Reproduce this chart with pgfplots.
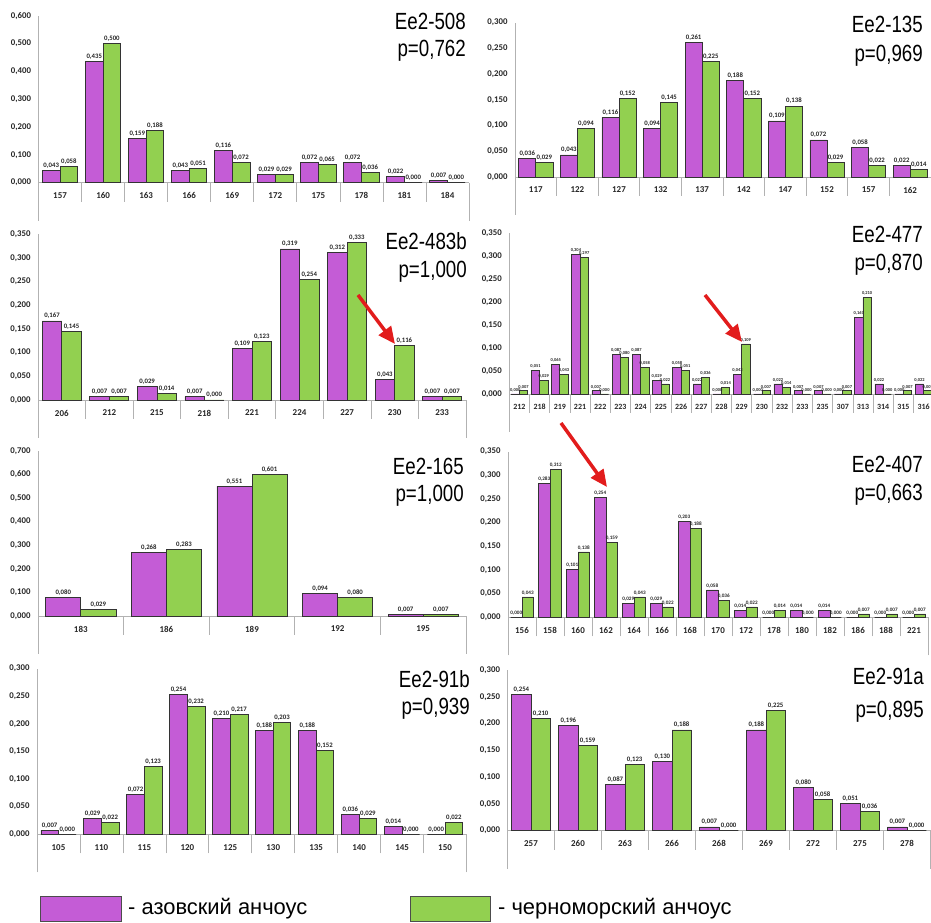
\documentclass[border=0pt]{standalone}
\usepackage{fontspec}
\setmainfont{Liberation Sans}
\newfontfamily\calfont{Carlito}
\usepackage{pgfplots}
\usepackage{pgfplotstable}
\pgfplotsset{compat=1.18}
\usetikzlibrary{arrows.meta}
\definecolor{azov}{RGB}{196,92,214}
\definecolor{bsea}{RGB}{146,208,80}
\definecolor{arrowred}{RGB}{226,28,28}

\pgfplotsset{
  panel/.style={
    scale only axis, anchor=south west, ybar, ymin=0, xmin=-0.5,
    axis x line*=bottom, axis y line*=left,
    axis line style={draw=black!30, line width=0.8pt},
    bar width=0.41,
    major tick length=0pt,
    minor tick length=19bp,
    tick align=outside,
    xtick style={draw=black!30, line width=0.7pt},
    ytick style={draw=none},
    extra x tick style={major tick length=38bp},
    extra x tick labels={{},{}},
    scaled y ticks=false,
    /pgf/number format/assume math mode=true,
    yticklabel style={font=\calfont\bfseries\fontsize{8.8}{9}\selectfont, text=black!85, xshift=-4bp,
      /pgf/number format/.cd, fixed, fixed zerofill, precision=3, use comma},
    xticklabel style={font=\calfont\bfseries\fontsize{9}{9}\selectfont, text=black!85, yshift=-6.5bp},
    nodes near coords={\pgfmathprintnumber[fixed,fixed zerofill,precision=3,use comma,assume math mode=true]{\pgfplotspointmeta}},
    every node near coord/.append style={font=\calfont\bfseries\fontsize{6.8}{7}\selectfont, text=black!85, inner sep=1.8pt},
    clip=false,
  },
  az/.style={fill=azov, draw=black!80, line width=0.7pt, bar shift=-0.205},
  bs/.style={fill=bsea, draw=black!80, line width=0.7pt, bar shift=0.205},
  smalllab/.style={every node near coord/.append style={font=\calfont\bfseries\fontsize{#1}{#1}\selectfont}},
}

% Ee2-508
\pgfplotstableread{
i az bs
0 0.043 0.058
1 0.435 0.500
2 0.159 0.188
3 0.043 0.051
4 0.116 0.072
5 0.029 0.029
6 0.072 0.065
7 0.072 0.036
8 0.022 0.000
9 0.007 0.000
}\tA
% Ee2-135
\pgfplotstableread{
i az bs
0 0.036 0.029
1 0.043 0.094
2 0.116 0.152
3 0.094 0.145
4 0.261 0.225
5 0.188 0.152
6 0.109 0.138
7 0.072 0.029
8 0.058 0.022
9 0.022 0.014
}\tB
% Ee2-483b
\pgfplotstableread{
i az bs
0 0.167 0.145
1 0.007 0.007
2 0.029 0.014
3 0.007 0.000
4 0.109 0.123
5 0.319 0.254
6 0.312 0.333
7 0.043 0.116
8 0.007 0.007
}\tC
% Ee2-477
\pgfplotstableread{
i az bs
0 0.000 0.007
1 0.051 0.029
2 0.065 0.043
3 0.304 0.297
4 0.007 0.000
5 0.087 0.080
6 0.087 0.058
7 0.029 0.022
8 0.058 0.051
9 0.022 0.036
10 0.000 0.014
11 0.043 0.109
12 0.000 0.007
13 0.022 0.014
14 0.007 0.000
15 0.007 0.000
16 0.000 0.007
17 0.167 0.210
18 0.022 0.000
19 0.000 0.007
20 0.022 0.007
}\tD
% Ee2-165
\pgfplotstableread{
i az bs
0 0.080 0.029
1 0.268 0.283
2 0.551 0.601
3 0.094 0.080
4 0.007 0.007
}\tE
% Ee2-407
\pgfplotstableread{
i az bs
0 0.000 0.043
1 0.283 0.312
2 0.101 0.138
3 0.254 0.159
4 0.029 0.043
5 0.029 0.022
6 0.203 0.188
7 0.058 0.036
8 0.014 0.022
9 0.000 0.014
10 0.014 0.000
11 0.014 0.000
12 0.000 0.007
13 0.000 0.007
14 0.000 0.007
}\tF
% Ee2-91b
\pgfplotstableread{
i az bs
0 0.007 0.000
1 0.029 0.022
2 0.072 0.123
3 0.254 0.232
4 0.210 0.217
5 0.188 0.203
6 0.188 0.152
7 0.036 0.029
8 0.014 0.000
9 0.000 0.022
}\tG
% Ee2-91a
\pgfplotstableread{
i az bs
0 0.254 0.210
1 0.196 0.159
2 0.087 0.123
3 0.130 0.188
4 0.007 0.000
5 0.188 0.225
6 0.080 0.058
7 0.051 0.036
8 0.007 0.000
}\tH

\newcommand\ttlb[5]{%
  \node[anchor=base east, inner sep=0, font=\fontsize{23.5}{25}\selectfont] at (#1,{923-(#2+8.4)}) {\scalebox{0.8}[1]{#4}};
  \node[anchor=base east, inner sep=0, font=\fontsize{23.5}{25}\selectfont] at (#1,{923-(#3+8.4)}) {\scalebox{0.8}[1]{#5}};}

\begin{document}
\begin{tikzpicture}[x=1bp,y=1bp]
\useasboundingbox (0,0) rectangle (931,923);

% Ee2-508
\begin{axis}[panel, at={(38.5bp,740.3bp)}, width=430.5bp, height=167bp, ymax=0.6,
  ytick={0,0.1,0.2,0.3,0.4,0.5,0.6},
  xtick={0,...,9}, xticklabels={157,160,163,166,169,172,175,178,181,184},
  xmax=9.5, minor xtick={-0.5,0.5,...,9.5}, extra x ticks={-0.5,9.5}]
\addplot[az] table[x=i,y=az]{\tA};
\addplot[bs] table[x=i,y=bs]{\tA};
\end{axis}

% Ee2-135
\begin{axis}[panel, at={(515bp,746bp)}, width=416bp, height=154.3bp, ymax=0.3,
  ytick={0,0.05,0.1,0.15,0.2,0.25,0.3},
  xtick={0,...,9}, xticklabels={117,122,127,132,137,142,147,152,157,162},
  xmax=9.5, minor xtick={-0.5,0.5,...,9.5}, extra x ticks={-0.5,9.5}]
\addplot[az] table[x=i,y=az]{\tB};
\addplot[bs] table[x=i,y=bs]{\tB};
\end{axis}

% Ee2-483b
\begin{axis}[panel, at={(38bp,523bp)}, width=428bp, height=165.7bp, ymax=0.35,
  ytick={0,0.05,0.1,0.15,0.2,0.25,0.3,0.35},
  xtick={0,...,8}, xticklabels={206,212,215,218,221,224,227,230,233},
  xmax=8.5, minor xtick={-0.5,0.5,...,8.5}, extra x ticks={-0.5,8.5}]
\addplot[az] table[x=i,y=az]{\tC};
\addplot[bs] table[x=i,y=bs]{\tC};
\end{axis}

% Ee2-477
\begin{axis}[panel, smalllab=4.5, at={(509.3bp,529bp)}, width=424.4bp, height=160.7bp, ymax=0.35,
  ytick={0,0.05,0.1,0.15,0.2,0.25,0.3,0.35},
  xtick={0,...,20}, xticklabels={212,218,219,221,222,223,224,225,226,227,228,229,230,232,233,235,307,313,314,315,316},
  xticklabel style={font=\calfont\bfseries\fontsize{8}{8}\selectfont},
  xmax=20.5, minor xtick={-0.5,0.5,...,20.5}, extra x ticks={-0.5,20.5}]
\addplot[az] table[x=i,y=az]{\tD};
\addplot[bs] table[x=i,y=bs]{\tD};
\end{axis}

% Ee2-165
\begin{axis}[panel, at={(38bp,307bp)}, width=428bp, height=165bp, ymax=0.7,
  ytick={0,0.1,0.2,0.3,0.4,0.5,0.6,0.7},
  xtick={0,...,4}, xticklabels={183,186,189,192,195},
  xmax=4.5, minor xtick={-0.5,0.5,...,4.5}, extra x ticks={-0.5,4.5}]
\addplot[az] table[x=i,y=az]{\tE};
\addplot[bs] table[x=i,y=bs]{\tE};
\end{axis}

% Ee2-407
\begin{axis}[panel, smalllab=5.2, at={(508bp,305.7bp)}, width=420bp, height=165.6bp, ymax=0.35,
  ytick={0,0.05,0.1,0.15,0.2,0.25,0.3,0.35},
  xtick={0,...,14}, xticklabels={156,158,160,162,164,166,168,170,172,178,180,182,186,188,221},
  xmax=14.5, minor xtick={-0.5,0.5,...,14.5}, extra x ticks={-0.5,14.5}]
\addplot[az] table[x=i,y=az]{\tF};
\addplot[bs] table[x=i,y=bs]{\tF};
\end{axis}

% Ee2-91b
\begin{axis}[panel, at={(37bp,88.7bp)}, width=429.5bp, height=165.6bp, ymax=0.3,
  ytick={0,0.05,0.1,0.15,0.2,0.25,0.3},
  xtick={0,...,9}, xticklabels={105,110,115,120,125,130,135,140,145,150},
  xmax=9.5, minor xtick={-0.5,0.5,...,9.5}, extra x ticks={-0.5,9.5}]
\addplot[az] table[x=i,y=az]{\tG};
\addplot[bs] table[x=i,y=bs]{\tG};
\end{axis}

% Ee2-91a
\begin{axis}[panel, at={(507.5bp,92.3bp)}, width=423bp, height=160.7bp, ymax=0.3,
  ytick={0,0.05,0.1,0.15,0.2,0.25,0.3},
  xtick={0,...,8}, xticklabels={257,260,263,266,268,269,272,275,278},
  xmax=8.5, minor xtick={-0.5,0.5,...,8.5}, extra x ticks={-0.5,8.5}]
\addplot[az] table[x=i,y=az]{\tH};
\addplot[bs] table[x=i,y=bs]{\tH};
\end{axis}

% titles
\ttlb{466}{21}{48}{Ee2-508}{p=0,762}
\ttlb{923}{23.7}{53.5}{Ee2-135}{p=0,969}
\ttlb{467}{241}{269}{Ee2-483b}{p=1,000}
\ttlb{923}{234}{262}{Ee2-477}{p=0,870}
\ttlb{464}{466}{493}{Ee2-165}{p=1,000}
\ttlb{923}{464}{492}{Ee2-407}{p=0,663}
\ttlb{470}{679}{706}{Ee2-91b}{p=0,939}
\ttlb{924}{676}{709}{Ee2-91a}{p=0,895}

% red arrows
\draw[-{Triangle[length=17bp,width=15bp]}, line width=3.5bp, arrowred] (358,{923-295}) -- (395,{923-344});
\draw[-{Triangle[length=17bp,width=15bp]}, line width=3.5bp, arrowred] (705,{923-295}) -- (742,{923-342});
\draw[-{Triangle[length=17bp,width=15bp]}, line width=3.5bp, arrowred] (561,{923-423}) -- (607,{923-487});

% legend
\draw[fill=azov, draw=black!70, line width=0.8pt] (40,2) rectangle (121,27);
\node[anchor=west, inner sep=0, font=\fontsize{22}{24}\selectfont] at (128,14.5) {- азовский анчоус};
\draw[fill=bsea, draw=black!70, line width=0.8pt] (410,2) rectangle (490,27);
\node[anchor=west, inner sep=0, font=\fontsize{22}{24}\selectfont] at (498,14.5) {- черноморский анчоус};
\end{tikzpicture}
\end{document}
